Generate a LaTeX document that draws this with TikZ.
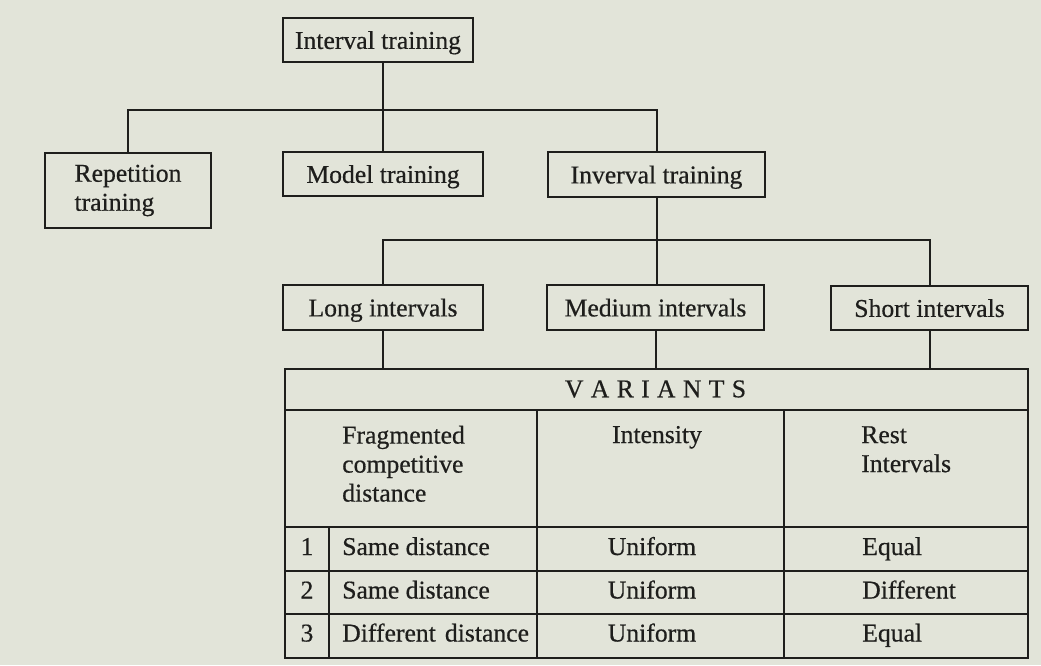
\documentclass[tikz,border=0pt]{standalone}
\usepackage{fontspec}
\setmainfont{Liberation Serif}
\newfontfamily\inkfont{Liberation Serif}[FakeBold=0.5]
\newdimen\pxu \pxu=0.75pt
\definecolor{paper}{RGB}{226,228,217}
\definecolor{ink}{RGB}{30,30,28}
\tikzset{
  conn/.style={draw=ink, line width=1.5pt},
  txt/.style={text=ink, font=\inkfont\fontsize{19.25}{21.75}\selectfont, inner sep=0pt},
  boxbase/.style={txt, draw=ink, line width=1.5pt},
  box/.style={boxbase, text depth=0pt, minimum height=44\pxu},
  cell/.style={txt},
}
\begin{document}
\begin{tikzpicture}[x=0.75pt, y=-0.75pt]
\fill[paper] (0,0) rectangle (1041,665);
\useasboundingbox (0,0) rectangle (1041,665);

% tree boxes
\node[box, minimum width=190\pxu] (top) at (378,40) {Interval training};
\node[boxbase, minimum width=166\pxu, minimum height=75\pxu, align=left] (rep) at (128,190.5) {Repetition\\training};
\node[box, minimum width=200\pxu] (model) at (383,174) {Model training};
\node[box, minimum width=217\pxu, minimum height=45\pxu] (inv) at (656.5,174.5) {Inverval training};
\node[box, minimum width=200\pxu, minimum height=45\pxu] (long) at (383,307.5) {Long intervals};
\node[box, minimum width=217\pxu, minimum height=45\pxu] (med) at (655.5,307.5) {Medium intervals};
\node[box, minimum width=197\pxu] (short) at (929.5,308) {Short intervals};

% table frame
\node[draw=ink, line width=1.5pt, minimum width=743\pxu, minimum height=289\pxu, anchor=north west, inner sep=0pt] (tbl) at (284,368) {};

% connectors
\coordinate (j1) at (383,110);
\coordinate (j2) at (657,240);
\draw[conn] (top.south -| model.north) -- (model.north);
\draw[conn] (rep.north) |- (j1) -| (inv.north);
\draw[conn] (inv.south) -- (inv.south |- med.north);
\draw[conn] (long.north) |- (j2) -| (short.north);
\draw[conn] (long.south) -- (long.south |- tbl.north);
\draw[conn] (med.south) -- (med.south |- tbl.north);
\draw[conn] (short.south) -- (short.south |- tbl.north);

% table grid
\draw[conn] (284,410) -- (1027,410);
\draw[conn] (284,527) -- (1027,527);
\draw[conn] (284,571) -- (1027,571);
\draw[conn] (284,614) -- (1027,614);
\draw[conn] (537,410) -- (537,657);
\draw[conn] (784,410) -- (784,657);
\draw[conn] (329,527) -- (329,657);

% table texts
\node[cell] (variants) at (655.5,389) {V\kern5.5pt A\kern5.5pt R\kern5.5pt I\kern5.5pt A\kern5.5pt N\kern5.5pt T\kern5.5pt S};
\node[cell, align=left, anchor=north west] (hfrag) at (342,425.5) {Fragmented\\competitive\\distance};
\node[cell, anchor=base] (hint) at (657,443) {Intensity};
\node[cell, align=left, anchor=north west] (hrest) at (861,426) {Rest\\Intervals};

\node[cell, anchor=base] (n1) at (307,555) {1};
\node[cell, anchor=base west] (s1) at (342,555) {Same distance};
\node[cell, anchor=base] (u1) at (652,555) {Uniform};
\node[cell, anchor=base west] (e1) at (862,555) {Equal};

\node[cell, anchor=base] (n2) at (307,598.5) {2};
\node[cell, anchor=base west] (s2) at (342,598.5) {Same distance};
\node[cell, anchor=base] (u2) at (652,598.5) {Uniform};
\node[cell, anchor=base west] (e2) at (862,598.5) {Different};

\node[cell, anchor=base] (n3) at (307,641.5) {3};
\node[cell, anchor=base west] (s3) at (342,641.5) {Different\kern2pt\ distance};
\node[cell, anchor=base] (u3) at (652,641.5) {Uniform};
\node[cell, anchor=base west] (e3) at (862,641.5) {Equal};
\end{tikzpicture}
\end{document}
